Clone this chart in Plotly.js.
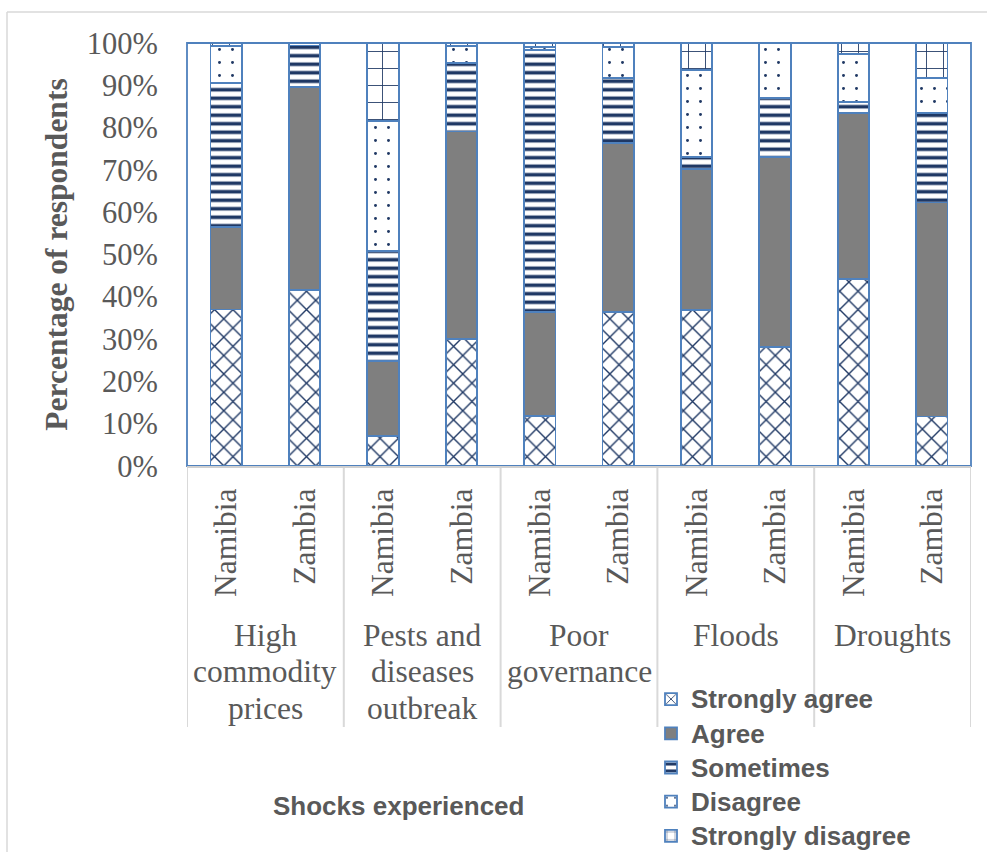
<!DOCTYPE html>
<html>
<head>
<meta charset="utf-8">
<script src="https://cdn.plot.ly/plotly-3.0.1.min.js"></script>
<style>
  html, body { margin: 0; padding: 0; background: #ffffff; }
  #chart { width: 987px; height: 852px; }
</style>
</head>
<body>
<div id="chart"></div>
<script>
// Shock categories (each split into its wrapped lines) and the two countries surveyed
const shocks = [
  ['High', 'commodity', 'prices'],
  ['Pests and', 'diseases', 'outbreak'],
  ['Poor', 'governance'],
  ['Floods'],
  ['Droughts']
];
const countries = ['Namibia', 'Zambia'];
const responses = ['Strongly agree', 'Agree', 'Sometimes', 'Disagree', 'Strongly disagree'];

// Percentage of respondents per bar, ordered shock by shock, Namibia then Zambia
const stronglyAgree    = [37.0, 41.6,  7.1, 30.0, 11.9, 36.4, 36.9, 28.2, 44.3, 11.7];
const agree            = [19.5, 48.0, 17.8, 49.1, 24.6, 39.9, 33.4, 44.8, 39.1, 50.6];
const sometimes        = [34.0,  9.8, 26.0, 16.2, 61.9, 15.4,  2.7, 14.0,  2.6, 21.1];
const disagree         = [ 8.8,  0.6, 30.7,  3.9,  0.7,  7.3, 20.7, 13.0, 11.4,  8.3];
const stronglyDisagree = [ 0.7,  0.0, 18.4,  0.8,  0.9,  1.0,  6.3,  0.0,  2.6,  8.3];

const yTicks = [0, 10, 20, 30, 40, 50, 60, 70, 80, 90, 100];

// ---- layout constants ----
const W = 987, H = 852;
const M = { l: 187, r: 16, t: 43, b: 386, autoexpand: false };
const plotH = H - M.t - M.b;
const plotW = W - M.l - M.r;
const pyPaper = px => (H - M.b - px) / plotH;      // page y (px) -> paper y
const pxPaper = px => (px - M.l) / plotW;          // page x (px) -> paper x

const navy = '#1f3864';
const edge = '#4f81bd';
const textGrey = '#595959';
const serif = 'Liberation Serif, Times New Roman, serif';
const sans = 'Liberation Sans, Arial, sans-serif';

// bar positions and their country labels
const xPos = [];
const xText = [];
shocks.forEach((s, g) => countries.forEach((c, k) => {
  xPos.push(g * countries.length + k);
  xText.push(c);
}));

const seriesValues = [stronglyAgree, agree, sometimes, disagree, stronglyDisagree];
const seriesStyle = [
  { color: '#ffffff', pattern: { shape: 'x', fgcolor: navy, bgcolor: '#ffffff', size: 13, solidity: 0.2 } },
  { color: '#7f7f7f' },
  { color: '#ffffff', pattern: { shape: '-', fgcolor: navy, bgcolor: '#ffffff', size: 8.5, solidity: 0.42 } },
  { color: '#ffffff', pattern: { shape: '.', fgcolor: navy, bgcolor: '#ffffff', size: 13, solidity: 0.04 } },
  { color: '#ffffff', pattern: { shape: '+', fgcolor: navy, bgcolor: '#ffffff', size: 17, solidity: 0.1 } }
];

const traces = responses.map((name, i) => ({
  type: 'bar',
  name: '<span style="font-size:26px">' + name + '</span>',
  x: xPos,
  y: seriesValues[i],
  width: 0.4,
  marker: Object.assign({ line: { color: edge, width: 1.8 } }, seriesStyle[i]),
  hoverinfo: 'y'
}));

// group labels under the country labels, plus the divider lines of the category table
const annotations = [];
shocks.forEach((lines, g) => {
  const xc = g * countries.length + (countries.length - 1) / 2;
  lines.forEach((line, j) => {
    annotations.push({
      text: line, x: xc, xref: 'x', y: pyPaper(635 + 36.7 * j), yref: 'paper',
      xanchor: 'center', yanchor: 'middle', showarrow: false,
      font: { family: serif, size: 31.5, color: textGrey }
    });
  });
});
annotations.push({
  text: 'Shocks experienced', x: pxPaper(398), xref: 'paper', y: pyPaper(806), yref: 'paper',
  xanchor: 'center', yanchor: 'middle', showarrow: false,
  font: { family: sans, size: 26, color: textGrey, weight: 'bold' }
});

const shapes = [];
for (let g = 0; g <= shocks.length; g++) {
  const xd = g * countries.length - 0.5;
  shapes.push({
    type: 'line', xref: 'x', yref: 'paper', x0: xd, x1: xd, y0: 0, y1: pyPaper(727),
    line: { color: '#d9d9d9', width: 2 }, layer: 'below'
  });
}
// plot area frame
shapes.push({
  type: 'rect', xref: 'paper', yref: 'paper', x0: 0, x1: 1, y0: 0, y1: 1,
  line: { color: edge, width: 1.8 }, layer: 'below'
});
// outer chart frame (left and top edges)
shapes.push({
  type: 'line', xref: 'paper', yref: 'paper', x0: pxPaper(7), x1: pxPaper(7), y0: pyPaper(12), y1: pyPaper(H + 5),
  line: { color: '#d9d9d9', width: 1.5 }
});
shapes.push({
  type: 'line', xref: 'paper', yref: 'paper', x0: pxPaper(7), x1: pxPaper(W + 5), y0: pyPaper(12), y1: pyPaper(12),
  line: { color: '#d9d9d9', width: 1.5 }
});

const layout = {
  width: W, height: H,
  margin: M,
  barmode: 'stack',
  paper_bgcolor: '#ffffff',
  plot_bgcolor: '#ffffff',
  showlegend: true,
  legend: {
    x: pxPaper(651), xanchor: 'left',
    y: pyPaper(677), yanchor: 'top',
    traceorder: 'normal',
    bgcolor: 'rgba(0,0,0,0)',
    font: { family: sans, size: 24, color: textGrey, weight: 'bold' }
  },
  xaxis: {
    range: [-0.5, xPos.length - 0.5],
    tickmode: 'array', tickvals: xPos, ticktext: xText,
    tickangle: -90,
    ticks: '', ticklabelstandoff: 8,
    tickfont: { family: serif, size: 31.5, color: textGrey },
    showgrid: false, zeroline: false,
    showline: true, linecolor: '#d0d0d0', linewidth: 2,
    fixedrange: true
  },
  yaxis: {
    range: [0, 100],
    tickmode: 'array', tickvals: yTicks, ticktext: yTicks.map(v => v + '%'),
    ticks: '', ticklabelstandoff: 28,
    tickfont: { family: serif, size: 30.5, color: textGrey },
    showgrid: false, zeroline: false, showline: false,
    title: { text: 'Percentage of respondents', standoff: 9,
             font: { family: serif, size: 31.5, color: textGrey, weight: 'bold' } },
    fixedrange: true
  },
  annotations: annotations,
  shapes: shapes
};

Plotly.newPlot('chart', traces, layout, { displayModeBar: false, staticPlot: true });
</script>
</body>
</html>
